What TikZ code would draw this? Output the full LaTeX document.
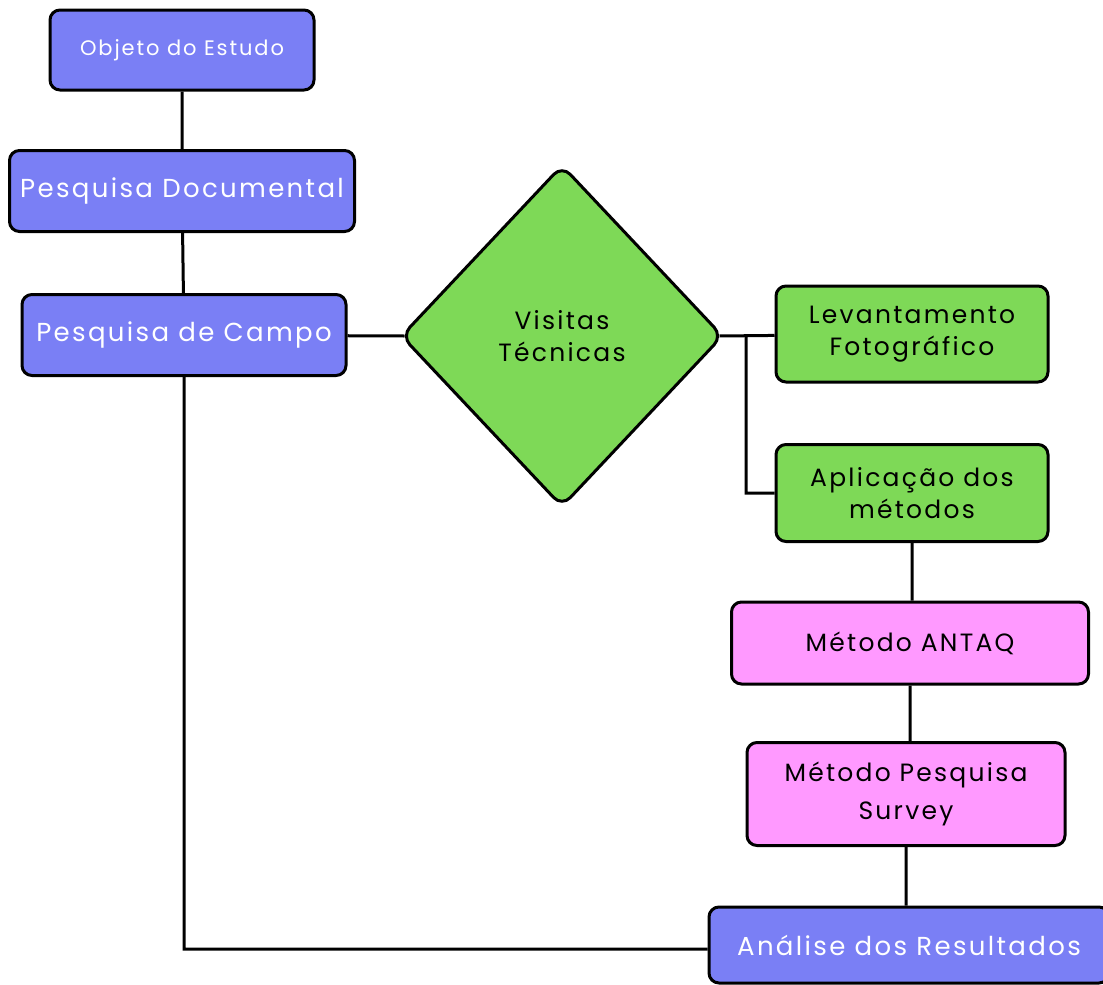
\documentclass[tikz,border=0pt]{standalone}
\usepackage{fontspec}
\setmainfont{Poppins}[LetterSpace=9]
\usetikzlibrary{shapes.geometric}
\definecolor{metblue}{RGB}{122,127,245}
\definecolor{metgreen}{RGB}{126,217,87}
\definecolor{metpink}{RGB}{255,153,255}
\tikzset{metbox/.style={draw=black,line width=3pt,rounded corners=10pt,inner sep=0pt,align=center,
                        font=\fontsize{25}{32}\selectfont},
         bluebox/.style={metbox,fill=metblue,text=white,font=\fontsize{26}{32}\selectfont},
         greenbox/.style={metbox,fill=metgreen,minimum width=272pt,minimum height=96pt},
         pinkbox/.style={metbox,fill=metpink},
         link/.style={line width=3pt}}

\begin{document}
\begin{tikzpicture}[x=1pt,y=-1pt]
\useasboundingbox (0,0) rectangle (1103,985);

% left column
\node[bluebox,minimum width=264pt,minimum height=80pt,font=\fontsize{21}{24}\selectfont] (objeto) at (182,50) {Objeto do Estudo};
\node[bluebox,minimum width=345pt,minimum height=81pt] (documental) at (182,191) {Pesquisa Documental};
\node[bluebox,minimum width=324pt,minimum height=81pt] (campo) at (184,335) {Pesquisa de Campo};

% visitas
\node[diamond,draw=black,line width=3pt,rounded corners=12pt,fill=metgreen,inner sep=0pt,
      minimum width=322pt,minimum height=342pt,align=center,font=\fontsize{25}{32}\selectfont] (visitas) at (562,336) {Visitas\\Técnicas};
\node[greenbox] (levantamento) at (912,334) {Levantamento\\Fotográfico};
\node[greenbox,minimum height=97pt] (aplicacao) at (912,493) {Aplicação dos\\métodos};

% metodos
\node[pinkbox,minimum width=357pt,minimum height=82pt] (antaq) at (910,643) {Método ANTAQ};
\node[pinkbox,minimum width=318pt,minimum height=103pt,font=\fontsize{25}{38}\selectfont] (survey) at (906,794) {Método Pesquisa\\Survey};
\node[bluebox,minimum width=400pt,minimum height=76pt] (analise) at (909,945) {Análise dos Resultados};

\coordinate (fork) at (746,336);

\draw[link] (objeto) -- (documental)
            (documental) -- (campo)
            (campo) -- ([xshift=5pt]visitas.west)
            ([xshift=-5pt]visitas.east) -- (levantamento)
            (fork) |- (aplicacao.west)
            (aplicacao.south) -- (aplicacao.south |- antaq.north)
            (antaq.south) -- (antaq.south |- survey.north)
            (survey.south) -- (survey.south |- analise.north)
            (campo.south) |- ([yshift=-4pt]analise.west);
\end{tikzpicture}
\end{document}
